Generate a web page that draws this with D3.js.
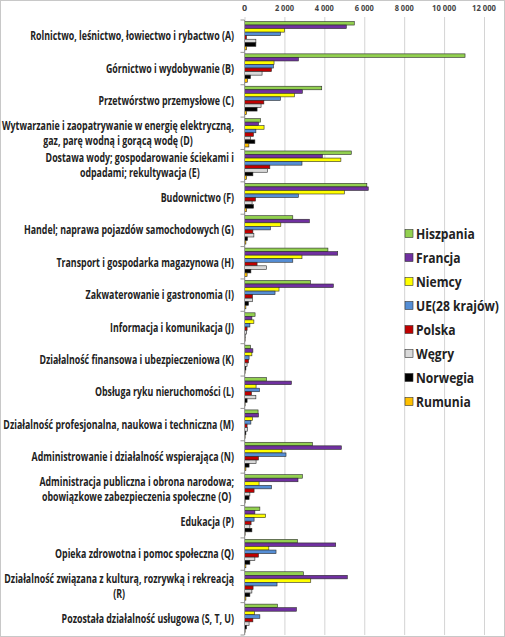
<!DOCTYPE html>
<html lang="pl">
<head>
<meta charset="utf-8">
<title>Sektory</title>
<script src="https://cdn.jsdelivr.net/npm/d3@7"></script>
<style>
  body { margin: 0; background: #fff; }
  svg text { font-family: "Open Sans", "Liberation Sans", sans-serif; font-weight: bold; fill: #222; }
  .grid line { stroke: #d4d4d4; }
  .grid path { display: none; }
</style>
</head>
<body>
<script>
// categories (lines split where the original label wraps)
var categories = [
  ["Rolnictwo, leśnictwo, łowiectwo i rybactwo (A)"],
  ["Górnictwo i wydobywanie  (B)"],
  ["Przetwórstwo przemysłowe (C)"],
  ["Wytwarzanie i zaopatrywanie w energię elektryczną,", "gaz, parę wodną i gorącą wodę (D)"],
  ["Dostawa wody; gospodarowanie ściekami i", "odpadami; rekultywacja (E)"],
  ["Budownictwo (F)"],
  ["Handel; naprawa pojazdów samochodowych (G)"],
  ["Transport i gospodarka magazynowa (H)"],
  ["Zakwaterowanie i gastronomia (I)"],
  ["Informacja i komunikacja (J)"],
  ["Działalność finansowa i ubezpieczeniowa (K)"],
  ["Obsługa ryku nieruchomości (L)"],
  ["Działalność profesjonalna, naukowa i techniczna (M)"],
  ["Administrowanie i działalność wspierająca (N)"],
  ["Administracja publiczna i obrona narodowa;", "obowiązkowe zabezpieczenia społeczne (O)"],
  ["Edukacja (P)"],
  ["Opieka zdrowotna i pomoc społeczna (Q)"],
  ["Działalność związana z kulturą, rozrywką i rekreacją", "(R)"],
  ["Pozostała działalność usługowa (S, T, U)"]
];

var seriesNames = ["Hiszpania", "Francja", "Niemcy", "UE(28 krajów)", "Polska", "Węgry", "Norwegia", "Rumunia"];
var seriesColors = ["#92d050", "#7030a0", "#ffff00", "#558ed5", "#c00000", "#d9d9d9", "#000000", "#ffc000"];

// values per series, in category order A..S
var hiszpania = [5500, 11050, 3870, 800, 5350, 6130, 2420, 4180, 3300, 530, 300, 1100, 680, 3400, 2900, 770, 2650, 2950, 1650];
var francja   = [5100, 2700, 2900, 700, 3900, 6200, 3250, 4670, 4450, 370, 420, 2350, 700, 4850, 2680, 520, 4570, 5150, 2600];
var niemcy    = [2000, 1480, 2500, 980, 4830, 5000, 1820, 2880, 1730, 470, 370, 580, 400, 1880, 730, 1050, 1220, 3320, 500];
var ue28      = [1800, 1450, 1800, 570, 2880, 2700, 1300, 2420, 1530, 270, 230, 750, 320, 2080, 1350, 480, 1580, 1630, 770];
var polska    = [100, 1350, 970, 450, 1270, 550, 420, 630, 400, 130, 200, 350, 130, 700, 480, 330, 700, 430, 420];
var wegry     = [570, 880, 830, 300, 1150, 380, 470, 1100, 400, 100, 130, 570, 150, 580, 270, 270, 520, 370, 230];
var norwegia  = [570, 300, 630, 520, 420, 450, 150, 320, 200, 30, 70, 130, 70, 230, 230, 370, 270, 270, 100];
var rumunia   = [100, 150, 100, 220, 100, 100, 70, 130, 70, 30, 30, 30, 30, 70, 30, 30, 70, 70, 30];

var seriesValues = [hiszpania, francja, niemcy, ue28, polska, wegry, norwegia, rumunia];
var ticks = [0, 2000, 4000, 6000, 8000, 10000, 12000];

var W = 505, H = 637;
var plotLeft = 244.5, plotRight = 484, plotTop = 20, plotBottom = 635;

var svg = d3.select("body").append("svg")
    .attr("width", W)
    .attr("height", H);

svg.append("rect")
    .attr("x", 0.5).attr("y", 0.5)
    .attr("width", W - 1).attr("height", H - 1)
    .attr("fill", "#fff")
    .attr("stroke", "#c8c8c8");

var x = d3.scaleLinear().domain([0, 12000]).range([plotLeft, plotRight]);
var y = d3.scaleBand().domain(d3.range(categories.length)).range([plotTop, plotBottom]);
var yInner = d3.scaleBand().domain(d3.range(seriesNames.length))
    .range([1.5, y.bandwidth() - 2.5]);

var fmt = d3.formatLocale({ decimal: ",", thousands: " ", grouping: [3], currency: ["", ""] }).format(",d");

// gridlines
svg.append("g")
    .attr("class", "grid")
    .attr("transform", "translate(0," + plotBottom + ")")
    .call(d3.axisTop(x).tickValues(ticks).tickSize(plotBottom - plotTop + 3).tickFormat(""));

// top tick labels
svg.append("g").selectAll("text")
    .data(ticks)
    .enter().append("text")
    .attr("x", function(d) { return x(d); })
    .attr("y", 11)
    .attr("text-anchor", "middle")
    .attr("font-size", "9px")
    .attr("textLength", function(d) { return d === 0 ? null : (d < 10000 ? 19 : 24); })
    .attr("lengthAdjust", "spacingAndGlyphs")
    .style("fill", "#444")
    .text(function(d) { return fmt(d); });

// bars
var groups = svg.append("g").selectAll("g")
    .data(categories)
    .enter().append("g")
    .attr("transform", function(d, i) { return "translate(0," + y(i) + ")"; });

groups.selectAll("rect")
    .data(function(d, i) { return seriesValues.map(function(s, j) { return { s: j, v: s[i] }; }); })
    .enter().append("rect")
    .attr("x", x(0))
    .attr("y", function(d) { return yInner(d.s); })
    .attr("width", function(d) { return x(d.v) - x(0); })
    .attr("height", yInner.bandwidth())
    .attr("fill", function(d) { return seriesColors[d.s]; })
    .attr("stroke", "#2a2a2a")
    .attr("stroke-width", 0.6);

// category axis line and ticks
svg.append("line")
    .attr("x1", plotLeft).attr("x2", plotLeft)
    .attr("y1", plotTop).attr("y2", plotBottom)
    .attr("stroke", "#999");
svg.append("g").selectAll("line")
    .data(d3.range(categories.length + 1))
    .enter().append("line")
    .attr("x1", plotLeft - 4).attr("x2", plotLeft)
    .attr("y1", function(i) { return plotTop + i * y.step(); })
    .attr("y2", function(i) { return plotTop + i * y.step(); })
    .attr("stroke", "#999");

// category labels: block right-aligned, lines centred inside it
// the source font is narrow, so the whole label column is squeezed horizontally
var labelRight = 234, widestTarget = 232;
var labelG = svg.append("g");
var labels = labelG.selectAll("g")
    .data(categories)
    .enter().append("g");

var allWidths = [];
labels.each(function(lines, i) {
  var g = d3.select(this);
  var cy = y(i) + y.bandwidth() / 2;
  var lh = 15;
  var t = lines.map(function(line, k) {
    return g.append("text")
      .attr("y", cy + (k - (lines.length - 1) / 2) * lh)
      .attr("dy", "0.35em")
      .attr("font-size", "11.5px")
      .text(line);
  });
  var maxW = d3.max(t, function(n) { return n.node().getComputedTextLength(); });
  allWidths.push(maxW);
  t.forEach(function(n) {
    n.attr("x", -maxW / 2).attr("text-anchor", "middle");
  });
});
var kx = widestTarget / d3.max(allWidths);
labelG.attr("transform", "translate(" + labelRight + ",0) scale(" + kx + ",1)");

// legend
var legend = svg.append("g").selectAll("g")
    .data(seriesNames)
    .enter().append("g")
    .attr("transform", function(d, i) { return "translate(405," + (234 + i * 24) + ")"; });

legend.append("rect")
    .attr("x", 0).attr("y", -4.5)
    .attr("width", 8).attr("height", 8)
    .attr("fill", function(d, i) { return seriesColors[i]; })
    .attr("stroke", "#333")
    .attr("stroke-width", 0.6);

var legText = legend.append("text")
    .attr("dy", "0.35em")
    .attr("font-size", "14px")
    .text(function(d) { return d; });
var legW = d3.max(legText.nodes(), function(n) { return n.getComputedTextLength(); });
var lk = 83 / legW;
legText.attr("transform", "translate(11,0) scale(" + lk + ",1)");
</script>
</body>
</html>
